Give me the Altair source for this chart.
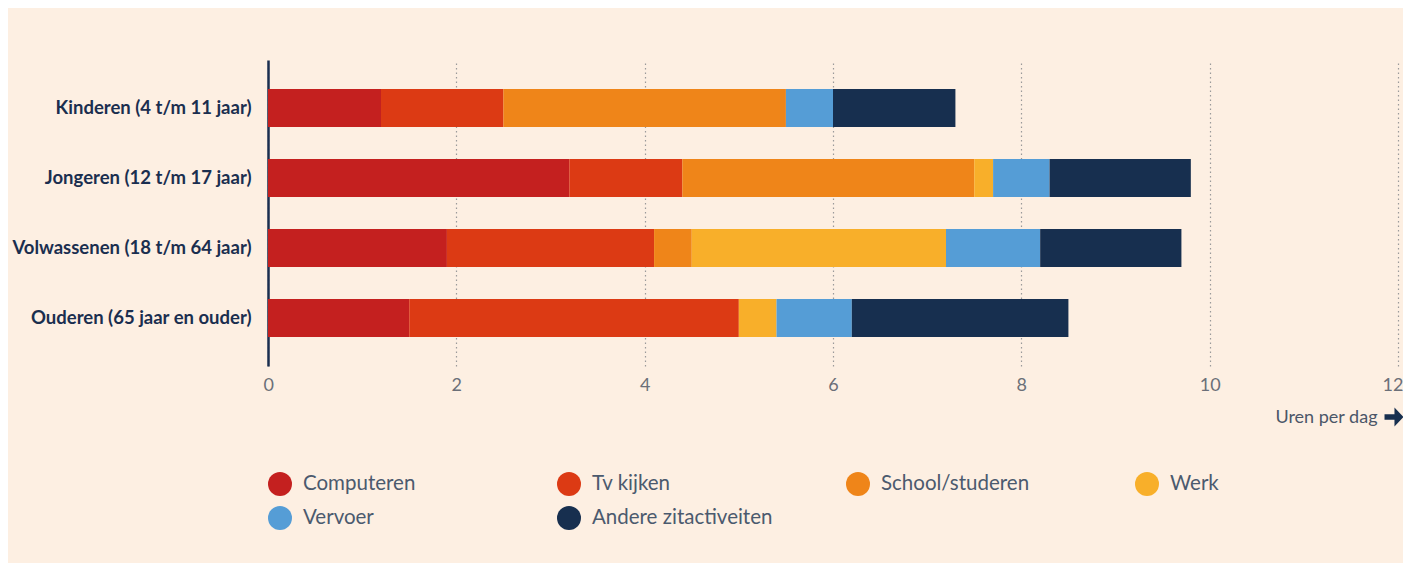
import altair as alt
import pandas as pd

groups = ["Kinderen (4 t/m 11 jaar)", "Jongeren (12 t/m 17 jaar)",
          "Volwassenen (18 t/m 64 jaar)", "Ouderen (65 jaar en ouder)"]
activities = ["Computeren", "Tv kijken", "School/studeren", "Werk", "Vervoer", "Andere zitactiveiten"]
colors = ["#c4201f", "#dc3a14", "#ef8519", "#f8af2a", "#559dd6", "#172f4f"]

computeren = [1.2, 3.2, 1.9, 1.5]
tv_kijken = [1.3, 1.2, 2.2, 3.5]
school = [3.0, 3.1, 0.4, 0.0]
werk = [0.0, 0.2, 2.7, 0.4]
vervoer = [0.5, 0.6, 1.0, 0.8]
andere = [1.3, 1.5, 1.5, 2.3]
x_ticks = [0, 2, 4, 6, 8, 10, 12]
axis_title = "Uren per dag"

series = [computeren, tv_kijken, school, werk, vervoer, andere]
rows = []
for k, (act, vals) in enumerate(zip(activities, series)):
    for g, v in zip(groups, vals):
        rows.append({"groep": g, "activiteit": act, "uren": v, "volgorde": k})
df = pd.DataFrame(rows)

bars = alt.Chart(df).mark_bar().encode(
    y=alt.Y("groep:N", sort=groups,
            scale=alt.Scale(paddingInner=0.457, paddingOuter=0.414),
            axis=alt.Axis(title=None, ticks=False, grid=False,
                          domainColor="#1a2e4f", domainWidth=2.5,
                          labelFont="Lato", labelFontWeight="bold", labelFontSize=18.5,
                          labelColor="#1a2e4f", labelPadding=17, labelLimit=400)),
    x=alt.X("uren:Q", stack="zero",
            scale=alt.Scale(domain=[0, 12], nice=False),
            axis=alt.Axis(values=x_ticks, format="d", grid=True, gridDash=[1.5, 3],
                          gridColor="#9a9a9a", gridWidth=1.2, domain=False, ticks=False,
                          labelFont="Lato", labelFontSize=18, labelColor="#6b6f78",
                          labelPadding=10, labelFlush=True, labelFlushOffset=5,
                          title=axis_title, titleFont="Lato", titleFontSize=18,
                          titleFontWeight="normal", titleColor="#4b5668",
                          titleX=1109, titleY=51, titleAlign="right",
                          titleBaseline="middle", titleAnchor="end")),
    color=alt.Color("activiteit:N",
                    scale=alt.Scale(domain=activities, range=colors),
                    legend=alt.Legend(title=None, orient="none", direction="horizontal",
                                      legendX=0, legendY=412,
                                      columns=4, gridAlign="all", columnPadding=73,
                                      rowPadding=10, symbolType="circle", symbolSize=576,
                                      symbolStrokeWidth=0, symbolOpacity=1,
                                      labelFont="Lato", labelFontSize=20.5, labelLimit=400,
                                      labelColor="#4b5a6e", labelOffset=11)),
    order=alt.Order("volgorde:Q"),
)

arrow_path = "M -1 -0.3 L 0.05 -0.3 L 0.05 -1 L 1 0 L 0.05 1 L 0.05 0.3 L -1 0.3 Z"
arrow_mark = alt.Chart(pd.DataFrame({"a": [0]})).mark_point(
    shape=arrow_path, filled=True, size=360, color="#172f4f", opacity=1, strokeWidth=0
).encode(x=alt.value(1126), y=alt.value(357))

chart = alt.layer(bars, arrow_mark).properties(
    width=1130, height=306,
    padding={"left": 260, "top": 52, "right": 5, "bottom": 197},
    autosize=alt.AutoSizeParams(type="none"),
    background="#fdefe2",
).configure_view(stroke=None)

chart.save("out.html", embed_options={"renderer": "svg", "actions": False})
